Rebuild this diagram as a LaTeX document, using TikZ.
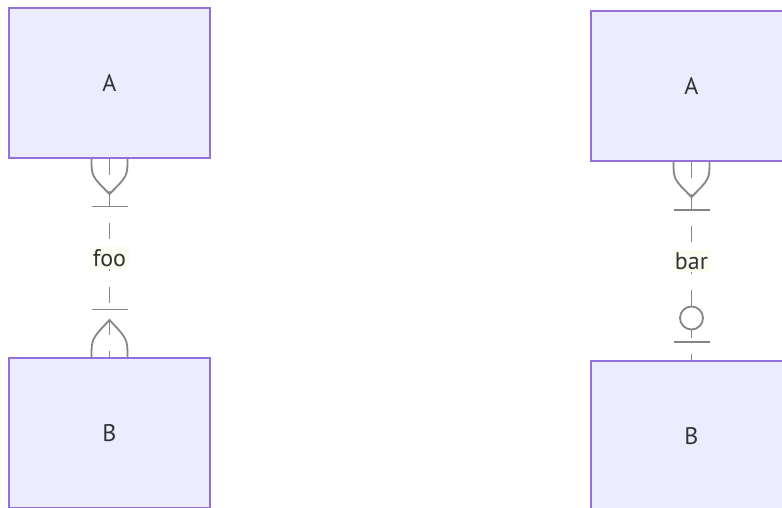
\documentclass[tikz,border=0pt]{standalone}
\usepackage{fontspec}
\setsansfont{PT Sans}
\usetikzlibrary{calc}
\definecolor{Entity}{HTML}{ECECFF}
\definecolor{Border}{HTML}{9370DB}
\definecolor{Rel}{HTML}{858585}
\definecolor{Text}{HTML}{333333}
\definecolor{LabelBg}{HTML}{FAFDF0}

\begin{document}
\begin{tikzpicture}[
  x=1pt, y=-1pt,
  font=\sffamily\fontsize{24}{28}\selectfont,
  entity/.style={
    rectangle,
    draw=Border,
    line width=2pt,
    fill=Entity,
    minimum width=201pt,
    minimum height=150pt,
    inner sep=0pt,
    text=Text
  },
  relline/.style={
    draw=Rel,
    line width=1.8pt,
    dash pattern=on 16pt off 16pt
  },
  relmark/.style={
    draw=Rel,
    line width=1.8pt
  },
  rellabel/.style={
    fill=LabelBg,
    text=Text,
    inner xsep=3pt,
    inner ysep=2pt
  }
]

\clip (0,0) rectangle (782,508);
\fill[white] (0,0) rectangle (782,508);

\node[entity] (A1) at (109.5,83) {A};
\node[entity] (B1) at (109.5,433) {B};
\node[entity] (A2) at (691.5,86) {A};
\node[entity] (B2) at (691.5,436) {B};

\draw[relline] (A1) -- node[rellabel, solid] {foo} (B1);
\draw[relline] (A2) -- node[rellabel, solid] {bar} (B2);

\draw[relmark] ($(A1.south)+(-18,0)$) .. controls ($(A1.south)+(-18,17)$) .. ($(A1.south)+(0,35)$)
  .. controls ($(A1.south)+(18,17)$) .. ($(A1.south)+(18,0)$);
\draw[relmark] ($(A1.south)+(-18,47.5)$) -- ($(A1.south)+(18,47.5)$);

\draw[relmark] ($(B1.north)+(-18,0)$) .. controls ($(B1.north)+(-18,-18)$) .. ($(B1.north)+(0,-37)$)
  .. controls ($(B1.north)+(18,-18)$) .. ($(B1.north)+(18,0)$);
\draw[relmark] ($(B1.north)+(-18,-47.5)$) -- ($(B1.north)+(18,-47.5)$);

\draw[relmark] ($(A2.south)+(-18,0)$) .. controls ($(A2.south)+(-18,17)$) .. ($(A2.south)+(0,35)$)
  .. controls ($(A2.south)+(18,17)$) .. ($(A2.south)+(18,0)$);
\draw[relmark] ($(A2.south)+(-18,48)$) -- ($(A2.south)+(18,48)$);

\draw[relmark, fill=white] ($(B2.north)+(0,-42)$) circle (11.5pt);
\draw[relmark] ($(B2.north)+(-18,-18)$) -- ($(B2.north)+(18,-18)$);

\end{tikzpicture}
\end{document}
